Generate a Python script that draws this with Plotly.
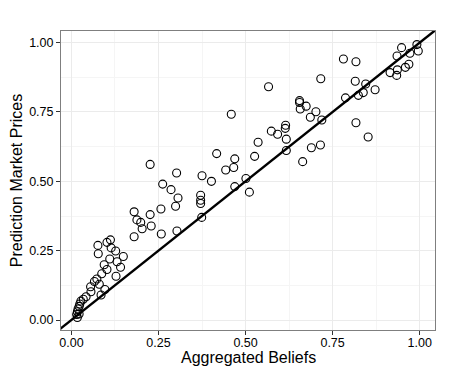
import plotly.graph_objects as go

aggregated_beliefs = [
    0.017, 0.015, 0.022, 0.017, 0.019, 0.022, 0.024, 0.027, 0.034, 0.042,
    0.056, 0.055, 0.066, 0.073, 0.080, 0.085, 0.087, 0.096, 0.094, 0.102,
    0.110, 0.128, 0.131, 0.141, 0.127, 0.114, 0.077, 0.076, 0.102, 0.112,
    0.149, 0.180, 0.188, 0.199, 0.203, 0.180, 0.226, 0.229, 0.258, 0.257,
    0.303, 0.299, 0.306, 0.371, 0.371, 0.371, 0.374, 0.262, 0.286, 0.226,
    0.302, 0.375, 0.402, 0.469, 0.417, 0.459, 0.469, 0.466, 0.443, 0.501,
    0.511, 0.526, 0.536, 0.566, 0.574, 0.592, 0.615, 0.614, 0.617, 0.617,
    0.655, 0.655, 0.657, 0.674, 0.664, 0.689, 0.715, 0.686, 0.702, 0.719,
    0.716, 0.781, 0.817, 0.815, 0.845, 0.872, 0.838, 0.824, 0.787, 0.817,
    0.852, 0.915, 0.936, 0.934, 0.959, 0.969, 0.935, 0.948, 0.972, 0.992,
    0.996,
]
market_prices = [
    0.009, 0.020, 0.022, 0.030, 0.040, 0.049, 0.058, 0.068, 0.075, 0.084,
    0.102, 0.120, 0.139, 0.148, 0.129, 0.090, 0.167, 0.110, 0.199, 0.182,
    0.220, 0.158, 0.210, 0.190, 0.249, 0.260, 0.239, 0.269, 0.280, 0.289,
    0.229, 0.300, 0.361, 0.352, 0.329, 0.390, 0.380, 0.339, 0.310, 0.400,
    0.321, 0.410, 0.440, 0.450, 0.432, 0.420, 0.370, 0.490, 0.470, 0.561,
    0.530, 0.520, 0.500, 0.481, 0.600, 0.742, 0.581, 0.550, 0.541, 0.510,
    0.461, 0.590, 0.641, 0.841, 0.681, 0.670, 0.702, 0.691, 0.652, 0.611,
    0.791, 0.784, 0.761, 0.771, 0.571, 0.621, 0.631, 0.731, 0.751, 0.721,
    0.870, 0.941, 0.931, 0.861, 0.851, 0.830, 0.820, 0.810, 0.801, 0.711,
    0.660, 0.892, 0.902, 0.882, 0.911, 0.922, 0.952, 0.982, 0.962, 0.993,
    0.970,
]
tick_values = [0.0, 0.25, 0.5, 0.75, 1.0]
tick_labels = ["0.00", "0.25", "0.50", "0.75", "1.00"]
x_title = "Aggregated Beliefs"
y_title = "Prediction Market Prices"

# reference line y = intercept + slope * x
line_slope = 1.0
line_intercept = 0.0

x_range = [-0.03, 1.044]
y_range = [-0.036, 1.042]

FONT = "Liberation Sans, Arial, Helvetica, sans-serif"

fig = go.Figure()

line_x = [min(x_range[0], y_range[0]) - 0.1, max(x_range[1], y_range[1]) + 0.1]
fig.add_trace(go.Scatter(
    x=line_x,
    y=[line_intercept + line_slope * v for v in line_x],
    mode="lines",
    line=dict(color="black", width=2.4),
    hoverinfo="skip",
    showlegend=False,
    cliponaxis=True,
))

fig.add_trace(go.Scatter(
    x=aggregated_beliefs,
    y=market_prices,
    mode="markers",
    marker=dict(symbol="circle-open", size=8, color="black", line=dict(width=1.1)),
    showlegend=False,
))

axis_common = dict(
    tickvals=tick_values,
    ticktext=tick_labels,
    ticks="outside",
    ticklen=4,
    tickwidth=1,
    tickcolor="#333333",
    tickfont=dict(family=FONT, size=12.5, color="black"),
    showgrid=True,
    gridcolor="#ebebeb",
    gridwidth=1,
    minor=dict(dtick=0.125, tick0=0.125, showgrid=True, gridcolor="#f5f5f5", gridwidth=0.8, ticks=""),
    zeroline=False,
    showline=True,
    linecolor="#7f7f7f",
    linewidth=1,
    mirror=True,
)

fig.update_xaxes(range=x_range, ticklabelstandoff=-3, **axis_common)
fig.update_yaxes(
    range=y_range,
    title=dict(text=y_title, font=dict(family=FONT, size=16, color="black"), standoff=3),
    **axis_common,
)

fig.add_annotation(
    text=x_title,
    xref="paper", yref="paper",
    x=0.5, y=0,
    xanchor="center", yanchor="top",
    yshift=-17,
    showarrow=False,
    font=dict(family=FONT, size=16, color="black"),
)

# the page body adds an 8px margin, so the figure is sized to fit the window
fig.update_layout(
    width=442,
    height=367,
    margin=dict(l=53, r=15, t=23, b=45, autoexpand=False),
    paper_bgcolor="white",
    plot_bgcolor="white",
    showlegend=False,
)

fig.write_html("out.html")
